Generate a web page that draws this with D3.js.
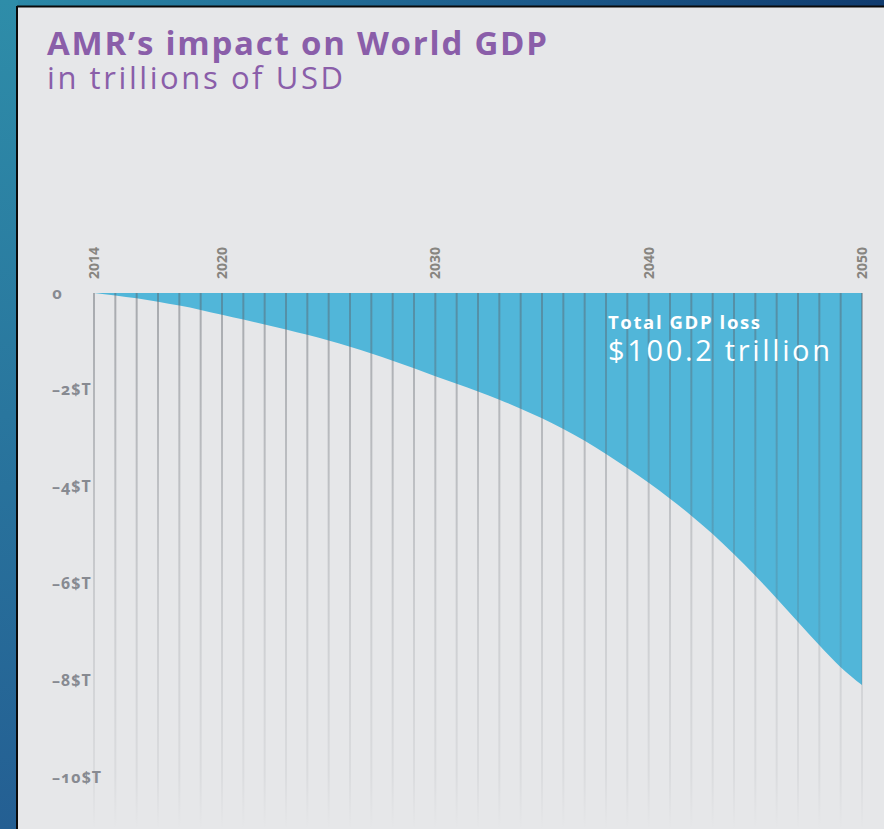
<!DOCTYPE html>
<html>
<head>
<meta charset="utf-8">
<script src="https://cdn.jsdelivr.net/npm/d3@7"></script>
<style>
  html, body { margin: 0; padding: 0; background: #1f5f8f; }
  svg { display: block; }
  .title { font-family: "Open Sans", "Noto Sans", sans-serif; }
  .ylab { font-family: "Noto Sans", "Open Sans", sans-serif; font-weight: 700; font-variant-numeric: oldstyle-nums; font-feature-settings: "onum" 1; }
  .xlab { font-family: "Open Sans", "Noto Sans", sans-serif; font-weight: 700; }
</style>
</head>
<body>
<script>
// Annual impact of antimicrobial resistance on world GDP, trillions of USD
const years = d3.range(2014, 2051);
const gdpImpact = [
  0, -0.05, -0.11, -0.18, -0.26, -0.35, -0.45, -0.55, -0.65, -0.755,
  -0.865, -0.98, -1.11, -1.25, -1.40, -1.555, -1.72, -1.875, -2.035, -2.205,
  -2.39, -2.59, -2.81, -3.055, -3.325, -3.615, -3.92, -4.25, -4.60, -4.98,
  -5.40, -5.84, -6.31, -6.80, -7.28, -7.73, -8.10
];
const yTicks = [0, -2, -4, -6, -8, -10];
const yTickLabels = ["o", "–2$T", "–4$T", "–6$T", "–8$T", "–10$T"];
const xTicks = [2014, 2020, 2030, 2040, 2050];

const W = 884, H = 829;
const svg = d3.select("body").append("svg").attr("width", W).attr("height", H);
const defs = svg.append("defs");

// spread a text's letters so that it spans the given width
function spreadTo(sel, width) {
  const node = sel.node();
  const n = node.textContent.length;
  const natural = node.getComputedTextLength();
  if (n > 1 && natural < width) sel.attr("letter-spacing", (width - natural) / (n - 1));
  return sel;
}

// frame gradient behind the panel
const bg = defs.append("linearGradient").attr("id", "frame")
  .attr("x1", "0%").attr("y1", "0%").attr("x2", "100%").attr("y2", "30%");
bg.append("stop").attr("offset", "0%").attr("stop-color", "#2c8aa8");
bg.append("stop").attr("offset", "55%").attr("stop-color", "#1c5a8a");
bg.append("stop").attr("offset", "100%").attr("stop-color", "#0d3468");
const bgV = defs.append("linearGradient").attr("id", "frameV")
  .attr("x1", "0%").attr("y1", "0%").attr("x2", "0%").attr("y2", "100%");
bgV.append("stop").attr("offset", "0%").attr("stop-color", "#2e8da9");
bgV.append("stop").attr("offset", "100%").attr("stop-color", "#245f93");

svg.append("rect").attr("width", W).attr("height", H).attr("fill", "url(#frame)");
svg.append("rect").attr("x", 0).attr("y", 0).attr("width", 18).attr("height", H).attr("fill", "url(#frameV)");

// panel
svg.append("rect").attr("x", 17).attr("y", 6).attr("width", W - 17).attr("height", H - 6)
  .attr("fill", "#e6e7e9");
svg.append("line").attr("x1", 17).attr("x2", W).attr("y1", 6.5).attr("y2", 6.5)
  .attr("stroke", "#0a0a0a").attr("stroke-width", 2);
svg.append("line").attr("x1", 17).attr("x2", 17).attr("y1", 6).attr("y2", H)
  .attr("stroke", "#0a0a0a").attr("stroke-width", 2);

// titles
spreadTo(svg.append("text").attr("class", "title").attr("x", 47).attr("y", 55)
  .attr("font-size", 33).attr("font-weight", 700).attr("fill", "#8a5ea9")
  .text("AMR’s impact on World GDP"), 500);
spreadTo(svg.append("text").attr("class", "title").attr("x", 47).attr("y", 89)
  .attr("font-size", 31).attr("font-weight", 400).attr("fill", "#8a5ea9")
  .text("in trillions of USD"), 296);

// scales
const x = d3.scaleLinear().domain([2014, 2050]).range([94, 862]);
const y = d3.scaleLinear().domain([0, -10]).range([293, 777]);

// loss area
const area = d3.area()
  .x((d, i) => x(years[i]))
  .y0(y(0))
  .y1(d => y(d))
  .curve(d3.curveMonotoneX);
svg.append("path").datum(gdpImpact).attr("d", area).attr("fill", "#51b6d9");

// yearly grid lines fading toward the bottom
const gg = defs.append("linearGradient").attr("id", "gridFade")
  .attr("gradientUnits", "userSpaceOnUse")
  .attr("x1", 0).attr("y1", y(0)).attr("x2", 0).attr("y2", H);
gg.append("stop").attr("offset", "0%").attr("stop-color", "#5a5f66").attr("stop-opacity", 0.45);
gg.append("stop").attr("offset", "55%").attr("stop-color", "#5a5f66").attr("stop-opacity", 0.2);
gg.append("stop").attr("offset", "90%").attr("stop-color", "#5a5f66").attr("stop-opacity", 0.08);
gg.append("stop").attr("offset", "100%").attr("stop-color", "#5a5f66").attr("stop-opacity", 0);

svg.append("g").selectAll("line").data(years).join("line")
  .attr("x1", d => x(d)).attr("x2", d => x(d))
  .attr("y1", y(0)).attr("y2", H)
  .attr("stroke", "url(#gridFade)").attr("stroke-width", 2);

// year labels (rotated)
svg.append("g").selectAll("text").data(xTicks).join("text")
  .attr("class", "xlab")
  .attr("transform", d => `translate(${x(d) + 5},279) rotate(-90)`)
  .attr("font-size", 14).attr("fill", "#878580")
  .text(d => d);

// value labels
svg.append("g").selectAll("text").data(yTicks).join("text")
  .attr("class", "ylab")
  .attr("x", 52).attr("y", d => y(d))
  .attr("dy", "0.35em")
  .attr("font-size", 16).attr("letter-spacing", 1).attr("fill", "#878a91")
  .text((d, i) => yTickLabels[i]);

// total annotation
spreadTo(svg.append("text").attr("class", "title").attr("x", 608).attr("y", 329)
  .attr("font-size", 18.5).attr("font-weight", 700).attr("fill", "#ffffff")
  .text("Total GDP loss"), 152);
spreadTo(svg.append("text").attr("class", "title").attr("x", 608).attr("y", 361)
  .attr("font-size", 29).attr("font-weight", 400).attr("fill", "#ffffff")
  .text("$100.2 trillion"), 222);
</script>
</body>
</html>
